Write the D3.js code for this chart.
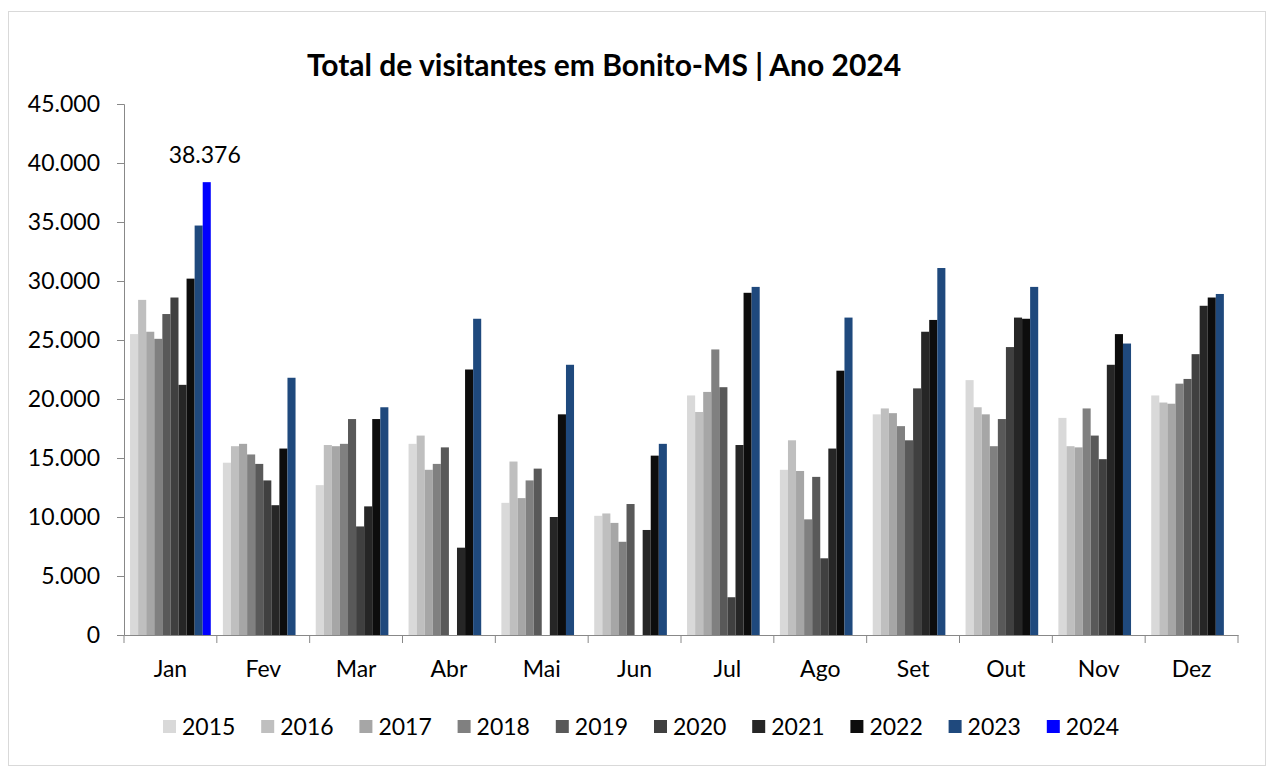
<!DOCTYPE html>
<html lang="pt">
<head>
<meta charset="UTF-8">
<title>Total de visitantes em Bonito-MS</title>
<style>
  body { margin: 0; background: #fff; }
  text { font-family: Lato, "Open Sans", sans-serif; fill: #000; }
</style>
</head>
<body>
<script src="https://d3js.org/d3.v7.min.js"></script>
<script>
const months = ["Jan", "Fev", "Mar", "Abr", "Mai", "Jun", "Jul", "Ago", "Set", "Out", "Nov", "Dez"];
const years = ["2015", "2016", "2017", "2018", "2019", "2020", "2021", "2022", "2023", "2024"];
const colors = ["#d9d9d9", "#bfbfbf", "#a6a6a6", "#808080", "#595959", "#404040", "#262626", "#0d0d0d", "#1f497d", "#0000ff"];

// visitantes por mês (null = sem dado)
const v2015 = [25500, 14600, 12700, 16200, 11200, 10100, 20300, 14000, 18700, 21600, 18400, 20300];
const v2016 = [28400, 16000, 16100, 16900, 14700, 10300, 18900, 16500, 19200, 19300, 16000, 19700];
const v2017 = [25700, 16200, 16000, 14000, 11600, 9500, 20600, 13900, 18800, 18700, 15900, 19600];
const v2018 = [25100, 15300, 16200, 14500, 13100, 7900, 24200, 9800, 17700, 16000, 19200, 21300];
const v2019 = [27200, 14500, 18300, 15900, 14100, 11100, 21000, 13400, 16500, 18300, 16900, 21700];
const v2020 = [28600, 13100, 9200, null, null, null, 3200, 6500, 20900, 24400, 14900, 23800];
const v2021 = [21200, 11000, 10900, 7400, 10000, 8900, 16100, 15800, 25700, 26900, 22900, 27900];
const v2022 = [30200, 15800, 18300, 22500, 18700, 15200, 29000, 22400, 26700, 26800, 25500, 28600];
const v2023 = [34700, 21800, 19300, 26800, 22900, 16200, 29500, 26900, 31100, 29500, 24700, 28900];
const v2024 = [38376, null, null, null, null, null, null, null, null, null, null, null];
const series = [v2015, v2016, v2017, v2018, v2019, v2020, v2021, v2022, v2023, v2024];

const yTicks = [0, 5000, 10000, 15000, 20000, 25000, 30000, 35000, 40000, 45000];

const W = 1269, H = 770;
const mLeft = 124, mRight = 1238, mTop = 104, mBottom = 635;

const svg = d3.select("body").append("svg")
  .attr("width", W)
  .attr("height", H);

svg.append("rect")
  .attr("x", 8.5).attr("y", 11.5)
  .attr("width", 1257).attr("height", 754)
  .attr("fill", "#fff")
  .attr("stroke", "#d9d9d9");

const x0 = d3.scaleBand().domain(months).range([mLeft, mRight]).padding(0);
const x1 = d3.scaleBand().domain(years).range([0, x0.bandwidth()]).paddingInner(0).paddingOuter(0.75);
const y = d3.scaleLinear().domain([0, 45000]).range([mBottom, mTop]);
const fmt = v => v === 0 ? "0" : d3.format(",")(v).replace(/,/g, ".");

// barras
const groups = svg.append("g").selectAll("g")
  .data(months)
  .join("g")
  .attr("transform", d => `translate(${x0(d)},0)`);

groups.selectAll("rect")
  .data((m, i) => years.map((yr, k) => ({ yr, k, v: series[k][i] })).filter(d => d.v != null))
  .join("rect")
  .attr("x", d => x1(d.yr))
  .attr("y", d => y(d.v))
  .attr("width", x1.bandwidth())
  .attr("height", d => mBottom - y(d.v))
  .attr("fill", d => colors[d.k]);

// eixo y
const yAxis = svg.append("g")
  .attr("transform", `translate(${mLeft},0)`)
  .call(d3.axisLeft(y).tickValues(yTicks).tickFormat(fmt).tickSizeOuter(0).tickSize(7).tickPadding(17));
yAxis.select(".domain").attr("stroke", "#888");
yAxis.selectAll(".tick line").attr("stroke", "#888");
yAxis.selectAll("text").attr("font-size", 23).attr("font-family", "Lato, sans-serif").attr("fill", "#000");

// eixo x
const xAxis = svg.append("g")
  .attr("transform", `translate(0,${mBottom})`)
  .call(d3.axisBottom(x0).tickSize(0).tickPadding(26));
xAxis.select(".domain").attr("stroke", "#888");
xAxis.selectAll("text").attr("font-size", 23).attr("font-family", "Lato, sans-serif").attr("fill", "#000");
svg.append("g").selectAll("line")
  .data(d3.range(13))
  .join("line")
  .attr("x1", i => mLeft + i * x0.step())
  .attr("x2", i => mLeft + i * x0.step())
  .attr("y1", mBottom)
  .attr("y2", mBottom + 8)
  .attr("stroke", "#888");

// rótulo do valor 2024
svg.append("text")
  .attr("x", x0("Jan") + x1("2024") + x1.bandwidth() / 2 - 2)
  .attr("y", y(v2024[0]) - 19)
  .attr("text-anchor", "middle")
  .attr("font-size", 23)
  .text(fmt(v2024[0]));

// título
svg.append("text")
  .attr("x", 604)
  .attr("y", 76)
  .attr("text-anchor", "middle")
  .attr("font-size", 30)
  .attr("font-weight", "bold")
  .text("Total de visitantes em Bonito-MS | Ano 2024");

// legenda
const leg = svg.append("g").selectAll("g")
  .data(years)
  .join("g")
  .attr("transform", (d, i) => `translate(${163 + i * 98.2},720)`);
leg.append("rect")
  .attr("width", 13).attr("height", 13)
  .attr("fill", (d, i) => colors[i]);
leg.append("text")
  .attr("x", 19)
  .attr("y", 15)
  .attr("font-size", 23)
  .text(d => d);
</script>
</body>
</html>
